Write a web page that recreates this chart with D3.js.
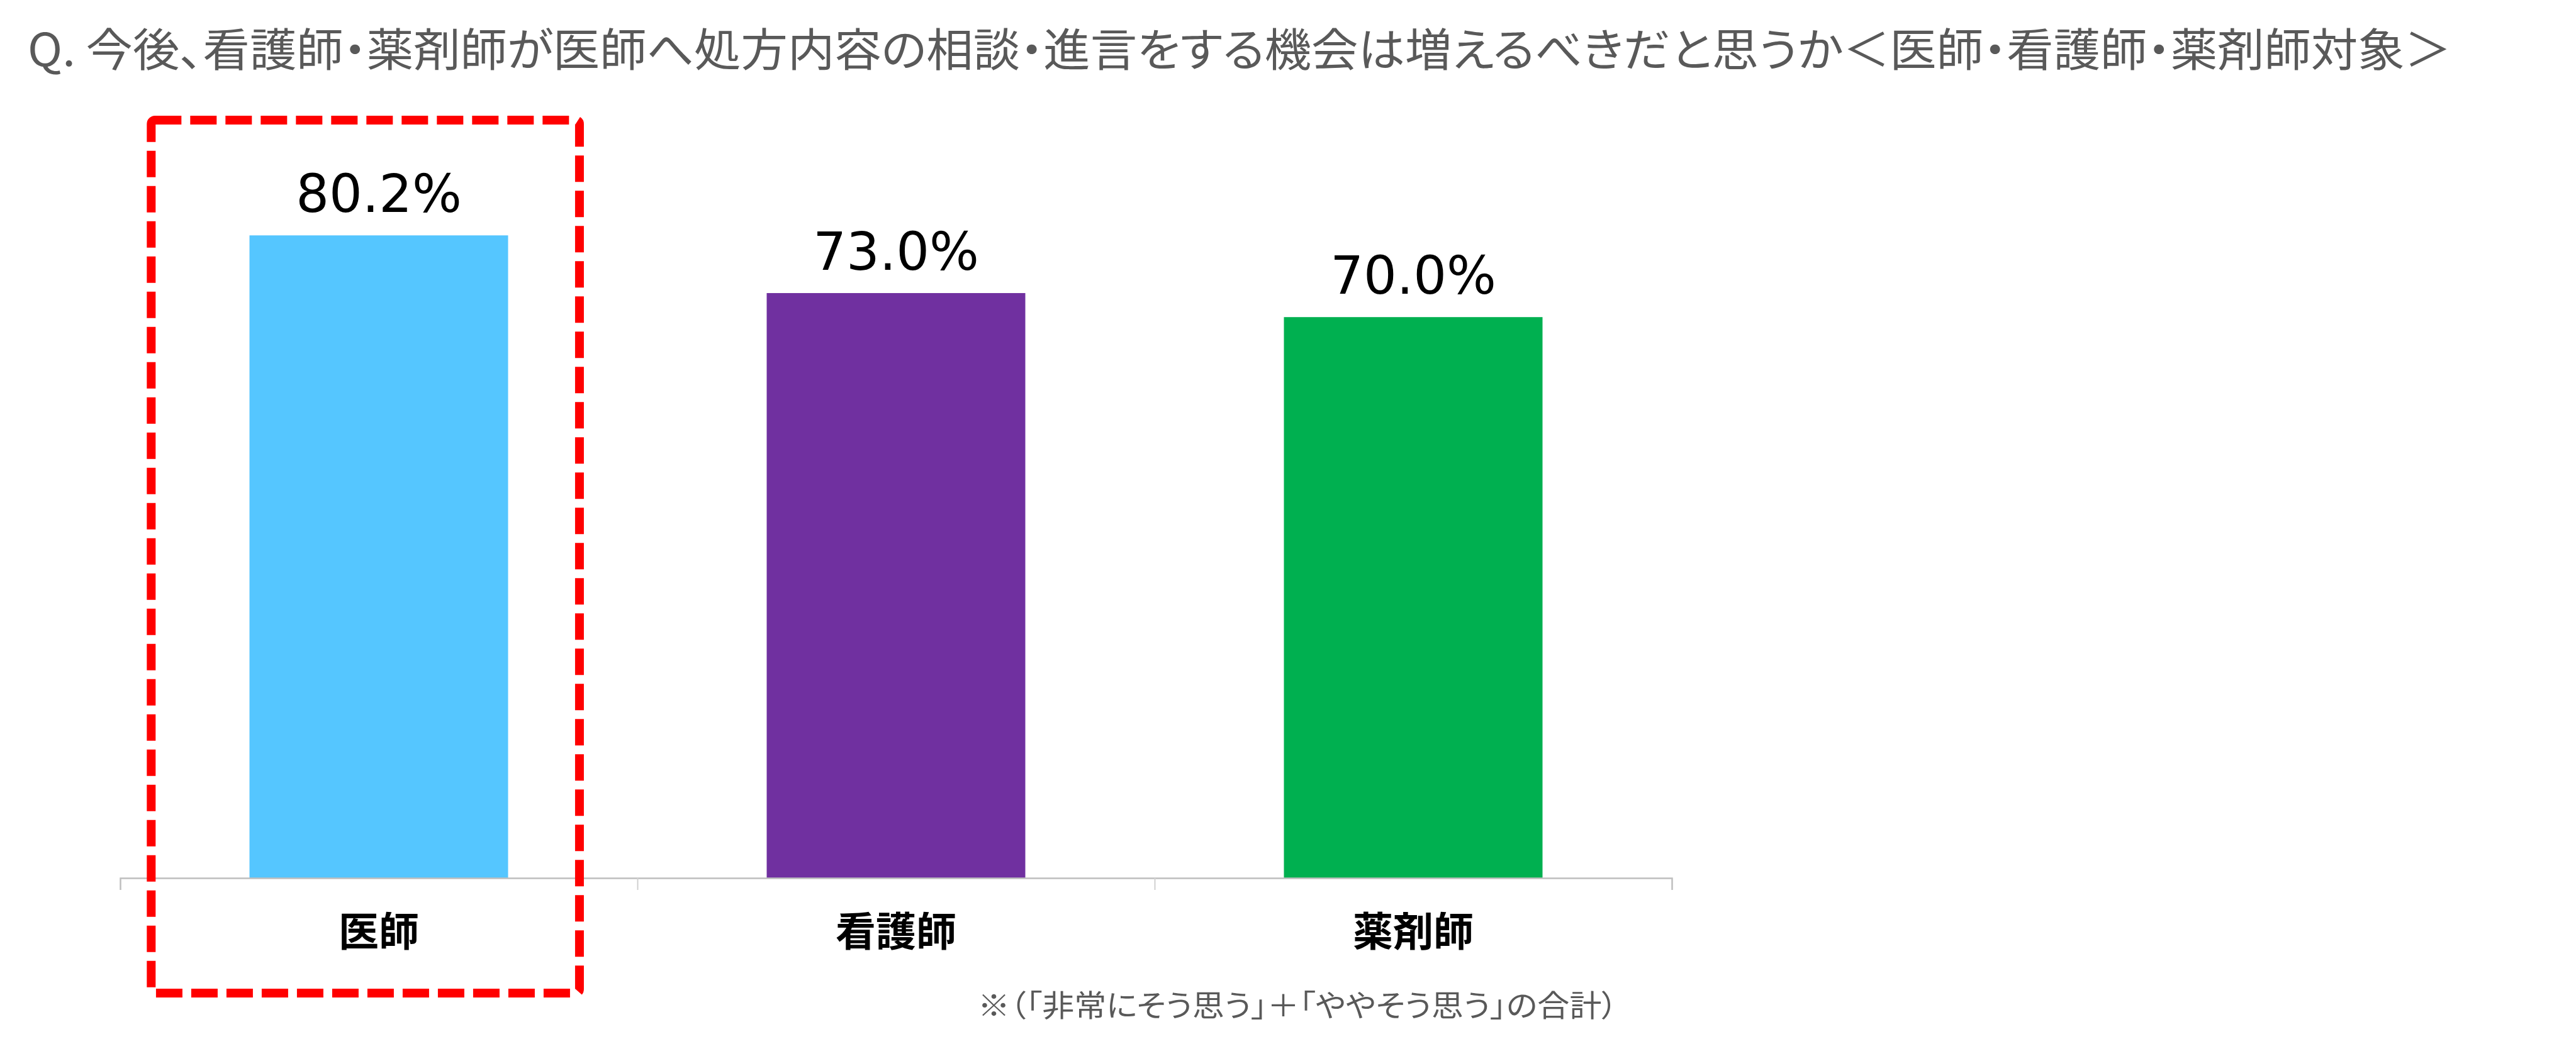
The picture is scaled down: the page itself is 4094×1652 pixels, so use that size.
<!DOCTYPE html>
<html>
<head>
<meta charset="utf-8">
<script src="https://cdn.jsdelivr.net/npm/d3@7"></script>
<style>
    body { margin: 0; background: #fff; }
    svg { display: block; }
</style>
</head>
<body>
<svg id="chart"></svg>
<script>
// data
var categories = ["医師", "看護師", "薬剤師"];
var values = [80.2, 73.0, 70.0];
var barColors = ["#55C6FF", "#7030A0", "#00B050"];
var highlight = "医師";

var titleText = "Q. 今後、看護師・薬剤師が医師へ処方内容の相談・進言をする機会は増えるべきだと思うか＜医師・看護師・薬剤師対象＞";
var noteText = "※（「非常にそう思う」＋「ややそう思う」の合計）";

var fullw = 4094;
var fullh = 1652;

var plot = {left: 191, right: 2657, top: 122, bottom: 1396};

var svg = d3.select("#chart")
    .attr("width", fullw)
    .attr("height", fullh);

svg.append("rect")
    .attr("width", fullw)
    .attr("height", fullh)
    .attr("fill", "#fff");

var x = d3.scaleBand()
    .domain(categories)
    .range([plot.left, plot.right])
    .paddingInner(0.5)
    .paddingOuter(0.25);

var y = d3.scaleLinear()
    .domain([0, 100])
    .range([plot.bottom, plot.top]);

// title
svg.append("text")
    .attr("x", 44)
    .attr("y", 73)
    .attr("dominant-baseline", "central")
    .attr("textLength", 3852)
    .attr("lengthAdjust", "spacingAndGlyphs")
    .style("font-family", "'Noto Sans CJK JP', sans-serif")
    .style("font-feature-settings", "'palt'")
    .style("font-size", "72px")
    .style("fill", "#595959")
    .text(titleText);

// bars
var data = categories.map(function (c, i) {
    return {name: c, value: values[i], color: barColors[i]};
});

svg.selectAll("rect.bar")
    .data(data)
    .enter()
    .append("rect")
    .attr("class", "bar")
    .attr("x", function (d) { return x(d.name); })
    .attr("y", function (d) { return y(d.value); })
    .attr("width", x.bandwidth())
    .attr("height", function (d) { return y(0) - y(d.value); })
    .style("fill", function (d) { return d.color; });

// value labels
svg.selectAll("text.value")
    .data(data)
    .enter()
    .append("text")
    .attr("class", "value")
    .attr("x", function (d) { return x(d.name) + x.bandwidth() / 2; })
    .attr("y", function (d) { return y(d.value) - 37; })
    .attr("text-anchor", "middle")
    .style("font-family", "'DejaVu Sans', sans-serif")
    .style("font-size", "83px")
    .style("fill", "#000")
    .text(function (d) { return d.value.toFixed(1) + "%"; });

// x axis: boundary ticks
var edge = d3.scaleLinear()
    .domain([0, categories.length])
    .range([plot.left, plot.right]);

var gX = svg.append("g")
    .attr("transform", "translate(0," + plot.bottom + ")")
    .call(d3.axisBottom(edge)
        .tickValues(d3.range(1, categories.length))
        .tickSize(19)
        .tickSizeOuter(19)
        .tickFormat(""));
gX.select(".domain").attr("stroke", "#BFBFBF").attr("stroke-width", 2.5);
gX.selectAll(".tick line").attr("stroke", "#D0D0D0").attr("stroke-width", 2);

// category labels
var gL = svg.append("g")
    .attr("transform", "translate(0," + plot.bottom + ")")
    .call(d3.axisBottom(x).tickSize(0).tickPadding(80));
gL.select(".domain").remove();
gL.selectAll(".tick text")
    .attr("dy", null)
    .attr("y", 80)
    .attr("dominant-baseline", "central")
    .style("font-family", "'Noto Sans CJK JP', sans-serif")
    .style("font-weight", "bold")
    .style("font-size", "64px")
    .style("fill", "#000");

// highlight box round the first category
var step = x.step();
svg.append("rect")
    .attr("x", x(highlight) - 0.19 * step)
    .attr("y", 191)
    .attr("width", 0.828 * step)
    .attr("height", 1579 - 191)
    .attr("rx", 6)
    .style("fill", "none")
    .style("stroke", "#FF0000")
    .style("stroke-width", 14)
    .style("stroke-dasharray", "42,14");

// note
svg.append("text")
    .attr("x", 1554)
    .attr("y", 1595)
    .attr("dominant-baseline", "central")
    .attr("textLength", 1017)
    .attr("lengthAdjust", "spacingAndGlyphs")
    .style("font-family", "'Noto Sans CJK JP', sans-serif")
    .style("font-feature-settings", "'palt'")
    .style("font-size", "48px")
    .style("fill", "#595959")
    .text(noteText);
</script>
</body>
</html>
